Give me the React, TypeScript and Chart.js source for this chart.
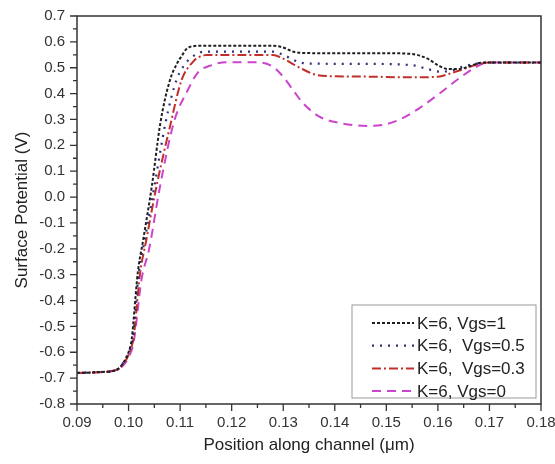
import React, { useEffect, useRef } from "react";
import { Chart, registerables } from "chart.js";
Chart.register(...registerables);

// ---- data (position in µm, surface potential in V) ----
const xVgs1 = [0.09, 0.095, 0.097, 0.098, 0.099, 0.1, 0.1006, 0.1018, 0.1028, 0.1045, 0.1062, 0.108, 0.1095, 0.1103, 0.1112, 0.1125, 0.114, 0.12, 0.128, 0.13, 0.132, 0.134, 0.14, 0.15, 0.155, 0.158, 0.16, 0.162, 0.164, 0.166, 0.168, 0.17, 0.18];
const yVgs1 = [-0.68, -0.676, -0.672, -0.664, -0.64, -0.6, -0.55, -0.29, -0.17, 0.04, 0.29, 0.45, 0.52, 0.545, 0.572, 0.583, 0.585, 0.585, 0.585, 0.578, 0.562, 0.557, 0.556, 0.556, 0.553, 0.535, 0.51, 0.495, 0.495, 0.505, 0.518, 0.52, 0.52];

const xVgs05 = [0.09, 0.095, 0.098, 0.099, 0.1, 0.1008, 0.102, 0.1032, 0.105, 0.1072, 0.1093, 0.1112, 0.1122, 0.1135, 0.1145, 0.128, 0.1305, 0.133, 0.135, 0.145, 0.155, 0.158, 0.1603, 0.1625, 0.165, 0.168, 0.17, 0.18];
const yVgs05 = [-0.68, -0.676, -0.665, -0.64, -0.6, -0.55, -0.29, -0.16, 0.04, 0.29, 0.453, 0.52, 0.54, 0.555, 0.562, 0.562, 0.545, 0.522, 0.516, 0.515, 0.51, 0.495, 0.485, 0.488, 0.505, 0.518, 0.52, 0.52];

const xVgs03 = [0.09, 0.095, 0.098, 0.099, 0.1, 0.101, 0.1022, 0.1035, 0.1053, 0.108, 0.1103, 0.1125, 0.1135, 0.1151, 0.128, 0.1295, 0.1332, 0.1365, 0.14, 0.145, 0.155, 0.16, 0.162, 0.165, 0.168, 0.17, 0.18];
const yVgs03 = [-0.68, -0.676, -0.665, -0.645, -0.61, -0.54, -0.3, -0.16, 0.03, 0.27, 0.453, 0.523, 0.54, 0.549, 0.549, 0.54, 0.5, 0.472, 0.467, 0.466, 0.463, 0.465, 0.475, 0.495, 0.515, 0.52, 0.52];

const xVgs0 = [0.09, 0.095, 0.098, 0.099, 0.1, 0.101, 0.1025, 0.104, 0.106, 0.1088, 0.1115, 0.1134, 0.1161, 0.119, 0.125, 0.128, 0.13, 0.1319, 0.1338, 0.1371, 0.141, 0.1468, 0.15, 0.1526, 0.1565, 0.1603, 0.1642, 0.1675, 0.1694, 0.18];
const yVgs0 = [-0.68, -0.676, -0.666, -0.65, -0.62, -0.56, -0.32, -0.2, 0.03, 0.29, 0.414, 0.48, 0.51, 0.521, 0.521, 0.504, 0.465, 0.414, 0.364, 0.31, 0.286, 0.275, 0.282, 0.3, 0.345, 0.4, 0.46, 0.504, 0.52, 0.52];

const seriesLabels = ["K=6, Vgs=1", "K=6,  Vgs=0.5", "K=6,  Vgs=0.3", "K=6, Vgs=0"];

const xMin = 0.09, xMax = 0.18, xStep = 0.01;
const yMin = -0.8, yMax = 0.7, yStep = 0.1;

const xTitle = "Position along channel (\u03bcm)";
const yTitle = "Surface Potential (V)";

const FONT = "'Liberation Sans', Arial, Helvetica, sans-serif";

const styles = [
  { color: "#1e1e1e", dash: [3, 2], width: 2 },
  { color: "#2f2f7a", dash: [2, 6], width: 2.2 },
  { color: "#c0302a", dash: [9, 3, 2, 3], width: 2 },
  { color: "#cc44cc", dash: [9, 6], width: 2 },
];

const decorPlugin = {
  id: "decor",
  afterDraw(chart: any) {
    const { ctx, chartArea: a, scales } = chart;
    const xs = scales.x, ys = scales.y;
    ctx.save();
    // frame
    ctx.strokeStyle = "#333";
    ctx.lineWidth = 1.5;
    ctx.setLineDash([]);
    ctx.strokeRect(a.left, a.top, a.right - a.left, a.bottom - a.top);
    // ticks
    ctx.lineWidth = 1.3;
    ctx.beginPath();
    const xt = xs.ticks.map((t: any) => t.value);
    xt.forEach((v: number, i: number) => {
      const p = xs.getPixelForValue(v);
      ctx.moveTo(p, a.bottom);
      ctx.lineTo(p, a.bottom + 7);
      if (i < xt.length - 1) {
        const m = xs.getPixelForValue((v + xt[i + 1]) / 2);
        ctx.moveTo(m, a.bottom);
        ctx.lineTo(m, a.bottom + 4);
      }
    });
    const yt = ys.ticks.map((t: any) => t.value);
    yt.forEach((v: number, i: number) => {
      const p = ys.getPixelForValue(v);
      ctx.moveTo(a.left, p);
      ctx.lineTo(a.left - 7, p);
      if (i < yt.length - 1) {
        const m = ys.getPixelForValue((v + yt[i + 1]) / 2);
        ctx.moveTo(a.left, m);
        ctx.lineTo(a.left - 4, m);
      }
    });
    ctx.stroke();

    // legend
    const bw = 184, bh = 93;
    const bx = a.right - 5 - bw, by = a.bottom - 6 - bh;
    ctx.fillStyle = "#fff";
    ctx.fillRect(bx, by, bw, bh);
    ctx.strokeStyle = "#999";
    ctx.lineWidth = 1;
    ctx.strokeRect(bx, by, bw, bh);
    ctx.font = "17px " + FONT;
    ctx.textBaseline = "middle";
    ctx.textAlign = "left";
    chart.data.datasets.forEach((ds: any, i: number) => {
      const cy = by + 18 + i * 22.7;
      ctx.beginPath();
      ctx.strokeStyle = ds.borderColor;
      ctx.lineWidth = ds.borderWidth;
      ctx.setLineDash(ds.borderDash);
      ctx.moveTo(bx + 20, cy);
      ctx.lineTo(bx + 62, cy);
      ctx.stroke();
      ctx.setLineDash([]);
      ctx.fillStyle = "#222";
      ctx.fillText(ds.label, bx + 65, cy + 1);
    });
    ctx.restore();
  },
};

export default function App() {
  const ref = useRef<HTMLCanvasElement | null>(null);
  useEffect(() => {
    if (!ref.current) return;
    const xsAll = [xVgs1, xVgs05, xVgs03, xVgs0];
    const ysAll = [yVgs1, yVgs05, yVgs03, yVgs0];
    const datasets = xsAll.map((xs, k) => ({
      label: seriesLabels[k],
      data: xs.map((x, i) => ({ x, y: ysAll[k][i] })),
      borderColor: styles[k].color,
      borderDash: styles[k].dash,
      borderWidth: styles[k].width,
      pointRadius: 0,
      fill: false,
      cubicInterpolationMode: "monotone" as const,
    }));
    const chart = new Chart(ref.current, {
      type: "line",
      data: { datasets },
      plugins: [decorPlugin],
      options: {
        animation: false,
        responsive: false,
        devicePixelRatio: 1,
        layout: { padding: { left: 0, top: 16, right: 0, bottom: 0 } },
        plugins: { legend: { display: false }, tooltip: { enabled: false } },
        scales: {
          x: {
            type: "linear",
            min: xMin,
            max: xMax,
            afterFit: (s: any) => { s.height = 60; s.paddingRight = 14; s.paddingLeft = 0; },
            grid: { display: false, drawTicks: false },
            border: { display: false },
            ticks: {
              stepSize: xStep,
              autoSkip: false,
              maxRotation: 0,
              padding: 10,
              color: "#333",
              font: { family: FONT, size: 15 },
              callback: (v: any) => Number(v).toFixed(2),
            },
            title: {
              display: true,
              text: xTitle,
              color: "#222",
              font: { family: FONT, size: 17 },
              padding: { top: 0, bottom: 8 },
            },
          },
          y: {
            type: "linear",
            min: yMin,
            max: yMax,
            afterFit: (s: any) => { s.width = 77; s.paddingTop = 0; s.paddingBottom = 0; },
            grid: { display: false, drawTicks: false },
            border: { display: false },
            ticks: {
              stepSize: yStep,
              autoSkip: false,
              padding: 12,
              color: "#333",
              font: { family: FONT, size: 15 },
              callback: (v: any) => (Math.abs(Number(v)) < 1e-9 ? "0.0" : Number(v).toFixed(1)),
            },
            title: {
              display: true,
              text: yTitle,
              color: "#222",
              font: { family: FONT, size: 17 },
              padding: { top: 12, bottom: 0 },
            },
          },
        },
      },
    });
    return () => chart.destroy();
  }, []);
  return (
    <div style={{ position: "fixed", left: 0, top: 0, width: 555, height: 464, background: "#fff" }}>
      <canvas ref={ref} width={555} height={464} style={{ width: 555, height: 464 }} />
    </div>
  );
}
